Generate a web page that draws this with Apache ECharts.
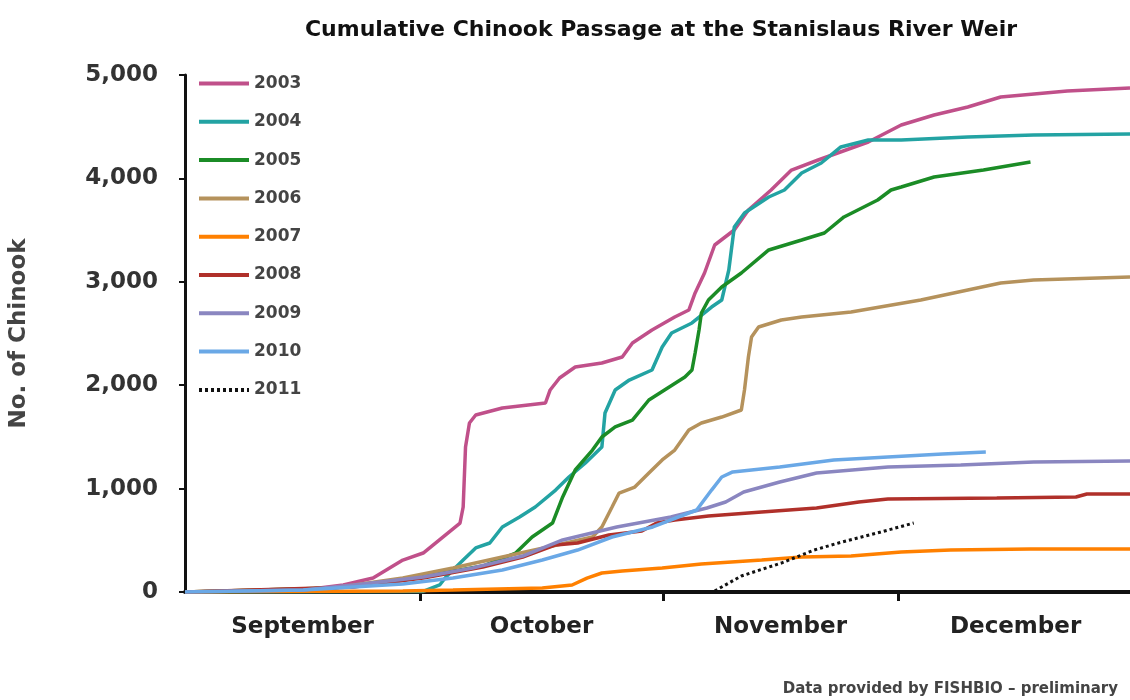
<!DOCTYPE html>
<html>
<head>
<meta charset="utf-8">
<script src="https://cdn.jsdelivr.net/npm/echarts@6/dist/echarts.min.js"></script>
<style>
  html, body { margin: 0; padding: 0; background: #fff; }
  #chart { width: 1130px; height: 700px; }
</style>
</head>
<body>
<div id="chart"></div>
<script>
// x = days since Sept 1, y = cumulative Chinook count
var monthNames = ['September', 'October', 'November', 'December'];
var monthMids = [15, 45.5, 76, 106];
var monthStarts = [30, 61, 91];

var days2003 = [0, 15.1, 20.2, 24, 27.8, 30.4, 35.1, 35.5, 35.8, 36.3, 37.1, 40.5, 46, 46.6, 47.8, 49.8, 53.2, 55.8, 57.1, 59.6, 62.5, 64.3, 65.1, 66.3, 67.6, 70.1, 71.9, 74.8, 77.4, 80.8, 87.2, 91.4, 95.6, 99.9, 104.1, 112.6, 120.6];
var vals2003 = [0, 19, 68, 135, 309, 377, 667, 822, 1402, 1634, 1712, 1780, 1828, 1954, 2070, 2176, 2215, 2273, 2408, 2534, 2660, 2727, 2892, 3085, 3356, 3501, 3694, 3888, 4081, 4178, 4352, 4516, 4613, 4691, 4787, 4845, 4874];

var days2004 = [0, 30.4, 32.5, 33.3, 35.5, 37.1, 38.9, 40.5, 42.7, 44.7, 47.3, 49, 51.1, 53.2, 53.6, 54.9, 56.7, 59.6, 60.9, 62.1, 64.7, 67.2, 68.5, 69.4, 70.1, 71.4, 74.5, 76.5, 78.7, 81.2, 83.7, 87.2, 91.4, 99.9, 108.3, 120.6];
var vals2004 = [0, 5, 68, 145, 309, 426, 474, 629, 725, 822, 986, 1112, 1248, 1402, 1731, 1954, 2050, 2147, 2369, 2505, 2602, 2756, 2824, 3114, 3530, 3665, 3820, 3888, 4052, 4149, 4304, 4371, 4371, 4400, 4420, 4429];

var days2005 = [0, 18.9, 27.8, 32.9, 38, 42.2, 44.3, 46.9, 48.2, 49.8, 52, 53.2, 54.9, 57.1, 59.2, 61.8, 63.8, 64.7, 65.1, 65.6, 65.9, 66.8, 68.5, 71, 74.5, 78.7, 81.6, 84.1, 88.4, 90.1, 91.4, 95.6, 101.9, 107.9];
var vals2005 = [0, 39, 116, 184, 251, 377, 532, 667, 919, 1180, 1373, 1499, 1596, 1663, 1857, 1983, 2079, 2147, 2311, 2534, 2698, 2824, 2950, 3085, 3308, 3404, 3472, 3627, 3791, 3888, 3917, 4014, 4081, 4159];

var days2006 = [0, 18.9, 27.8, 34.2, 40.5, 46.9, 52, 53.2, 54.5, 55.4, 57.4, 59.2, 60.9, 62.5, 64.3, 65.9, 68.5, 71, 71.4, 71.9, 72.3, 73.2, 76.1, 78.7, 85, 93.9, 99.9, 104.1, 108.3, 120.6];
var vals2006 = [0, 39, 135, 232, 338, 445, 532, 629, 822, 957, 1015, 1151, 1277, 1373, 1567, 1634, 1692, 1760, 1954, 2273, 2466, 2563, 2631, 2660, 2708, 2824, 2921, 2988, 3017, 3046];

var days2007 = [0, 27.8, 34.2, 45.6, 49.4, 51.3, 53.2, 55.8, 60.9, 65.9, 73.6, 78.7, 85, 91.4, 97.7, 107.9, 120.6];
var vals2007 = [0, 10, 19, 39, 68, 135, 184, 203, 232, 271, 309, 338, 348, 387, 406, 416, 416];

var days2008 = [0, 21.5, 30.4, 38, 43.1, 47.3, 50.1, 54.1, 58.3, 60.2, 62.5, 66.8, 73.6, 80.6, 86, 89.7, 103.6, 113.7, 115.1, 120.6];
var vals2008 = [0, 48, 135, 242, 338, 455, 474, 551, 590, 667, 696, 735, 774, 812, 870, 899, 909, 919, 948, 948];

var days2009 = [0, 15.1, 21.5, 30.4, 36.7, 43.1, 48.2, 55.1, 62, 66.6, 69, 71.3, 75.9, 80.6, 89.7, 99, 108.3, 120.6];
var vals2009 = [0, 19, 68, 145, 232, 348, 503, 629, 725, 812, 870, 967, 1064, 1151, 1209, 1228, 1257, 1267];

var days2010 = [0, 15.1, 27.8, 34.2, 40.5, 45.6, 50.1, 54.5, 59.7, 65.3, 67.2, 68.5, 69.9, 75.9, 82.8, 89.7, 96.7, 102.2];
var vals2010 = [0, 19, 77, 135, 213, 309, 406, 532, 629, 793, 986, 1112, 1161, 1209, 1277, 1306, 1335, 1354];

var days2011 = [67.6, 71, 76.1, 80.3, 83.4, 88.8, 93];
var vals2011 = [10, 155, 280, 406, 474, 580, 667];

var years = ['2003', '2004', '2005', '2006', '2007', '2008', '2009', '2010', '2011'];
var yearDays = [days2003, days2004, days2005, days2006, days2007, days2008, days2009, days2010, days2011];
var yearVals = [vals2003, vals2004, vals2005, vals2006, vals2007, vals2008, vals2009, vals2010, vals2011];
var colors = ['#c0508a', '#23a3a3', '#1b8c26', '#b5925c', '#ff8000', '#b0302a', '#8a86c0', '#6aa8e6', '#111111'];

var fontFam = '"DejaVu Sans", Arial, sans-serif';

function zip(xs, ys) {
    var out = [];
    for (var i = 0; i < xs.length; i++) {
        out.push([xs[i], ys[i]]);
    }
    return out;
}

var series = [];
for (var i = 0; i < years.length; i++) {
    series.push({
        name: years[i],
        type: 'line',
        symbol: 'none',
        data: zip(yearDays[i], yearVals[i]),
        lineStyle: {
            color: colors[i],
            width: i === 8 ? 3 : 3.5,
            type: i === 8 ? [3, 3] : 'solid'
        },
        itemStyle: { color: colors[i] }
    });
}

var myChart = echarts.init(document.getElementById('chart'));
myChart.setOption({
    animation: false,
    title: {
        text: 'Cumulative Chinook Passage at the Stanislaus River Weir',
        left: 656,
        top: 14,
        textAlign: 'center',
        textStyle: { fontFamily: fontFam, fontWeight: 'bold', fontSize: 22, color: '#111' }
    },
    legend: {
        orient: 'vertical',
        left: 192,
        top: 70,
        itemWidth: 50,
        itemHeight: 14,
        itemGap: 21.3,
        itemStyle: { opacity: 0 },
        lineStyle: { width: 4 },
        textStyle: { fontFamily: fontFam, fontWeight: 'bold', fontSize: 17, color: '#444' },
        data: years
    },
    grid: { left: 181, right: 0, top: 75, bottom: 108 },
    xAxis: {
        type: 'value',
        min: 0,
        max: 120.6,
        axisLine: { lineStyle: { color: '#111', width: 4 } },
        axisTick: { customValues: monthStarts, length: 9, lineStyle: { color: '#111', width: 3 } },
        axisLabel: {
            customValues: monthMids,
            margin: 24,
            fontFamily: fontFam,
            fontWeight: 'bold',
            fontSize: 23,
            color: '#222',
            formatter: function (v) {
                return monthNames[monthMids.indexOf(v)];
            }
        },
        splitLine: { show: false }
    },
    yAxis: {
        type: 'value',
        min: 0,
        max: 5000,
        interval: 1000,
        name: 'No. of Chinook',
        nameLocation: 'middle',
        nameRotate: 90,
        nameGap: 154,
        nameTextStyle: { fontFamily: fontFam, fontWeight: 'bold', fontSize: 23, color: '#444' },
        axisLine: { show: true, lineStyle: { color: '#111', width: 3 } },
        axisTick: { show: true, length: 6, lineStyle: { color: '#111', width: 2 } },
        axisLabel: {
            margin: 27,
            fontFamily: fontFam,
            fontWeight: 'bold',
            fontSize: 23,
            color: '#333',
            formatter: function (v) {
                return v.toLocaleString('en-US');
            }
        },
        splitLine: { show: false }
    },
    graphic: [{
        type: 'text',
        right: 12,
        top: 682,
        style: {
            text: 'Data provided by FISHBIO \u2013 preliminary',
            font: 'bold 15px ' + fontFam,
            fill: '#444'
        }
    }],
    series: series
});
</script>
</body>
</html>
